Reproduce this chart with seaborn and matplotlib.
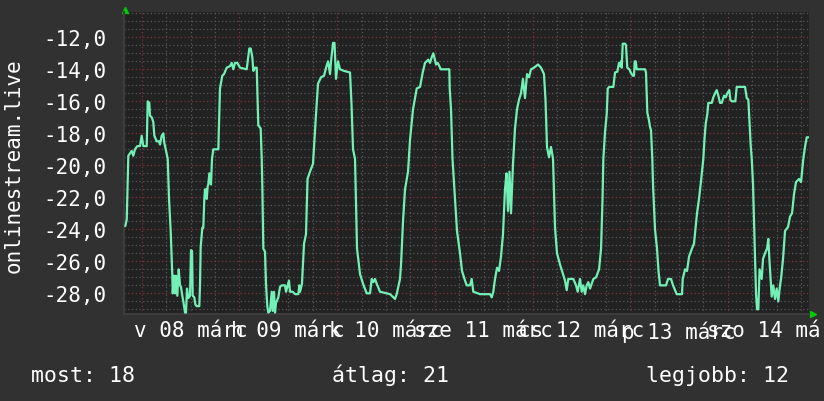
import numpy as np
import pandas as pd
import matplotlib
matplotlib.use("Agg")
import matplotlib.pyplot as plt
import seaborn as sns

# ---- data (hours since midnight of 08 March, rank shown negative) ----
hours_a = [-4.03, -3.68, -3.37, -3.29, -2.46, -2.06, -1.65, -1.08, -0.42, 0.0,
           0.39, 1.23, 1.47, 1.87, 2.04, 2.46, 2.85, 3.10, 3.68, 4.25,
           4.50, 4.91, 5.31, 5.55, 5.90, 6.29, 6.39, 6.71, 7.12, 7.52,
           7.62, 7.93, 8.18, 8.43, 8.75, 9.09, 9.41, 9.65, 9.97, 10.22,
           10.64, 10.88, 11.13, 11.45, 11.87, 12.11, 12.36, 12.53, 12.92, 13.17,
           13.51, 14.15, 14.32, 14.49, 14.89, 15.13, 15.38, 15.55, 15.87, 15.97,
           16.21, 16.36, 16.61, 17.02, 17.15, 17.27, 17.59, 18.82, 19.23, 19.80,
           20.22, 20.88, 21.69, 22.11, 22.50, 22.92, 23.48, 24.15, 25.79, 26.43,
           26.78, 27.17, 27.42, 27.83, 28.25, 28.64, 29.23, 29.48]
rank_a = [-23.8, -23.4, -20.2, -19.4, -19.1, -19.4, -19.0, -18.8, -18.8, -18.15,
          -18.8, -18.8, -16.0, -16.1, -16.9, -17.0, -17.3, -18.15, -18.5, -18.5,
          -18.7, -18.15, -18.0, -18.6, -19.0, -19.5, -19.6, -22.1, -24.1, -26.9,
          -28.0, -26.9, -28.0, -26.9, -28.15, -26.5, -27.5, -27.6, -28.15, -28.5,
          -29.2, -29.2, -27.7, -28.3, -28.15, -25.3, -25.35, -28.15, -28.25, -28.7,
          -28.8, -28.8, -27.5, -25.1, -23.9, -23.9, -22.1, -21.5, -21.5, -22.1,
          -21.3, -21.2, -20.5, -21.2, -20.4, -19.6, -19.0, -19.0, -15.2, -14.4,
          -14.3, -13.9, -13.8, -13.6, -14.0, -13.6, -13.6, -13.9, -14.0, -12.7,
          -12.7, -13.25, -14.1, -13.9, -13.9, -17.5, -17.7, -19.6]

hours_b = [29.63, 29.87, 30.29, 30.53, 30.85, 31.10, 31.52, 31.93, 32.18, 32.50,
           32.75, 32.99, 33.56, 33.97, 34.39, 35.20, 35.45, 35.77, 36.18, 36.43,
           37.09, 37.66, 38.47, 38.72, 38.90, 39.37, 39.87, 40.36, 40.73, 41.34,
           42.08, 42.82, 43.31, 44.05, 44.79, 45.28, 45.77, 46.26, 46.51, 47.00,
           47.36, 47.73, 48.22, 48.71, 49.70, 51.17, 51.54, 51.91, 52.40, 52.89,
           53.63, 54.37, 55.27, 56.08, 56.50, 56.89, 57.31, 57.73, 58.54, 61.00,
           62.22, 62.64, 63.45]
rank_b = [-21.3, -25.2, -25.4, -27.4, -28.8, -29.2, -29.1, -27.9, -29.1, -27.9,
          -29.2, -28.6, -28.25, -27.6, -27.5, -27.5, -27.9, -27.6, -27.2, -27.9,
          -27.9, -28.05, -28.05, -27.5, -27.9, -27.4, -24.9, -24.3, -20.85, -20.4,
          -19.9, -16.8, -14.9, -14.5, -14.4, -13.9, -13.5, -14.3, -13.5, -12.35,
          -12.35, -14.6, -13.5, -14.0, -14.1, -14.2, -16.2, -19.0, -19.6, -25.2,
          -26.8, -27.4, -28.0, -28.0, -27.1, -27.3, -27.1, -27.4, -27.9, -28.05,
          -28.35, -28.05, -27.1]

hours_c = [63.70, 64.19, 64.68, 65.42, 65.91, 66.65, 67.56, 68.37, 69.03, 69.59,
           70.01, 70.40, 70.82, 71.24, 71.63, 71.88, 72.30, 72.71, 73.11, 73.45,
           75.56, 75.66, 75.98, 76.35, 76.96, 77.45, 78.19, 78.68, 79.42, 79.84,
           80.65, 81.06, 81.46, 83.11, 85.56, 85.98, 86.37, 86.79, 87.28, 87.77,
           88.26, 88.75, 89.24, 89.61, 89.98, 90.35, 90.72, 91.21, 91.70, 92.19,
           92.68, 93.17, 93.66, 94.15, 94.65, 95.14, 95.63, 96.36, 97.35, 98.09,
           98.82, 99.19, 99.56, 100.05, 100.54, 101.04]
rank_c = [-26.2, -23.5, -21.5, -20.4, -18.4, -16.5, -15.2, -15.1, -14.2, -13.6,
          -13.5, -13.4, -13.6, -13.25, -13.0, -13.25, -13.7, -13.6, -13.8, -14.0,
          -14.0, -15.2, -16.5, -19.6, -22.1, -24.1, -25.5, -26.6, -27.2, -27.5,
          -27.5, -27.1, -27.9, -28.05, -28.05, -28.25, -27.9, -27.1, -26.4, -26.6,
          -25.7, -24.3, -21.5, -20.5, -22.85, -20.4, -23.0, -19.9, -17.7, -16.5,
          -15.9, -15.5, -14.6, -15.8, -14.3, -14.5, -14.0, -13.9, -13.7, -13.9,
          -14.3, -15.9, -18.85, -19.5, -18.85, -19.6]

hours_d = [101.53, 102.02, 102.76, 103.49, 103.98, 104.40, 104.80, 106.02, 106.69, 107.10,
           107.67, 108.09, 108.48, 108.90, 109.31, 109.71, 110.13, 110.54, 110.95, 111.61,
           112.35, 112.84, 113.20, 113.40, 113.82, 114.23, 114.48, 114.87, 115.86, 116.27,
           116.83, 117.25, 117.50, 117.74, 117.91, 118.16, 118.72, 118.97, 119.28, 119.78,
           120.12, 120.62, 120.93, 121.11, 121.35, 121.60, 123.64, 123.88, 124.20, 124.62,
           124.86, 125.11, 125.43, 125.60, 126.09, 126.58, 126.95, 127.32, 128.80, 129.29,
           130.03, 130.52, 131.42, 132.72, 132.90, 133.47, 133.96, 134.45, 135.18, 135.67,
           136.41, 136.90, 137.39, 137.96]
rank_d = [-23.9, -25.5, -26.2, -26.8, -27.2, -27.8, -27.1, -27.1, -27.5, -27.9,
          -27.1, -27.9, -27.5, -28.05, -27.5, -27.3, -27.7, -27.4, -27.1, -27.0,
          -26.5, -25.2, -22.1, -19.6, -17.9, -16.8, -15.2, -15.1, -15.1, -14.2,
          -14.15, -13.6, -13.8, -13.5, -13.9, -12.4, -12.4, -12.5, -13.9, -14.0,
          -14.2, -14.4, -14.4, -13.5, -13.5, -14.0, -14.0, -14.2, -16.7, -17.2,
          -17.6, -17.8, -19.6, -21.2, -24.0, -25.2, -26.6, -27.5, -27.5, -27.1,
          -27.1, -27.5, -28.05, -28.05, -27.1, -26.5, -26.6, -25.7, -25.2, -24.9,
          -23.0, -22.1, -21.0, -19.6]

hours_e = [138.25, 138.55, 138.94, 139.19, 140.03, 140.42, 140.84, 141.25, 141.65, 142.07,
           142.48, 142.73, 143.05, 143.46, 143.86, 144.35, 144.60, 144.94, 145.51, 145.83,
           146.16, 147.80, 148.21, 148.63, 149.02, 149.27, 149.61, 149.86, 150.17, 150.54,
           150.91, 151.16, 151.47, 151.77, 152.30, 152.62, 153.11, 153.60, 153.93, 154.22,
           154.76, 155.15, 155.57, 155.99, 156.38, 156.80, 157.05, 157.54, 158.03, 158.77,
           159.26, 159.75, 160.24, 160.73, 161.47, 161.96, 162.52, 162.94, 163.36, 163.80]
rank_e = [-18.35, -17.4, -16.8, -16.1, -16.1, -15.75, -15.5, -15.3, -15.65, -16.1,
          -16.1, -15.9, -15.65, -15.75, -15.5, -15.3, -15.9, -16.0, -16.0, -16.0,
          -15.1, -15.1, -15.1, -15.8, -15.9, -17.1, -18.8, -19.6, -21.2, -24.6,
          -28.05, -29.0, -29.0, -26.5, -27.1, -25.85, -25.5, -25.2, -24.6, -26.0,
          -28.2, -27.5, -28.35, -27.7, -28.5, -27.5, -27.1, -25.85, -24.1, -23.85,
          -23.2, -23.0, -21.8, -21.05, -20.85, -21.05, -19.6, -18.85, -18.25, -18.25]

day_labels = ["v 08 márc", "h 09 márc", "k 10 márc", "sze 11 márc",
              "cs 12 márc", "p 13 márc", "szo 14 márc"]
day_label_hours = [12, 36, 60, 84, 108, 132, 156]
y_major = [-28, -26, -24, -22, -20, -18, -16, -14, -12]
series_name = "onlinestream.live"
summary_texts = ["most: 18", "átlag: 21", "legjobb: 12"]

# ---- build frame ----
df = pd.DataFrame({
    "hour": hours_a + hours_b + hours_c + hours_d + hours_e,
    "rank": rank_a + rank_b + rank_c + rank_d + rank_e,
})

sns.set_style("dark")
plt.rcParams["font.family"] = ["DejaVu Sans Mono", "DejaVu Sans"]

W, H = 824, 402
fig = plt.figure(figsize=(W / 100, H / 100), dpi=100, facecolor="#313131")
L, R, T, B = 124, 809, 13, 315
ax = fig.add_axes([L / W, 1 - B / H, (R - L) / W, (B - T) / H])
ax.set_facecolor("#222222")

RED = "#7e3438"
GREY = "#565656"
LINE = "#72f0b6"

sns.lineplot(data=df, x="hour", y="rank", ax=ax, color=LINE, linewidth=1.6,
             estimator=None, sort=False, zorder=5)

ax.set_xlim(-4.35, 163.92)
ax.set_ylim(-29.29, -10.42)

# x grid: major at midnight (red), minor every 6 h (grey); labels at noon
ax.set_xticks(np.arange(0, 168, 24))
ax.set_xticklabels([])
minor_pos = [h for h in range(6, 164, 6) if h % 24 != 0]
minor_lab = [day_labels[day_label_hours.index(h)] if h in day_label_hours else ""
             for h in minor_pos]
ax.set_xticks(minor_pos, minor=True)
ax.set_xticklabels(minor_lab, minor=True)

# y grid
ax.set_yticks(y_major)
ax.set_yticklabels([f"{v:.1f}".replace(".", ",") for v in y_major])
ax.set_yticks(np.arange(-29.0, -10.4, 0.5), minor=True)

dots = (0, (1, 2))
ax.grid(which="minor", color=GREY, linestyle=dots, linewidth=0.9)
ax.grid(which="major", color=RED, linestyle=dots, linewidth=0.9)
ax.set_axisbelow(True)

ax.tick_params(axis="x", which="major", length=3, width=0.8, color=RED)
ax.tick_params(axis="x", which="minor", length=3, width=0.8, color=GREY,
               labelcolor="white", labelsize=15, pad=1.5)
ax.tick_params(axis="y", which="major", length=3, width=0.8, color=RED,
               labelcolor="white", labelsize=15, pad=9.5)
ax.tick_params(axis="y", which="minor", length=3, width=0.8, color=GREY)
ax.set_xlabel("")
ax.set_ylabel("")

for s in ["top", "right"]:
    ax.spines[s].set_visible(False)
for s in ["left", "bottom"]:
    ax.spines[s].set_color("#3c3c3c")
    ax.spines[s].set_linewidth(1.5)

# rrdtool-like arrows
ax.plot([0.002], [1.0066], marker="^", markersize=5, color="#00cc00",
        transform=ax.transAxes, clip_on=False, linestyle="none")
ax.plot([1.0063], [0.001], marker=">", markersize=5, color="#00cc00",
        transform=ax.transAxes, clip_on=False, linestyle="none")

# vertical series name
fig.text(14 / W, 1 - 166 / H, series_name, rotation=90, ha="center",
         va="center", color="white", fontsize=15)

# summary line
for txt, xpx in zip(summary_texts, [31, 332, 646]):
    fig.text(xpx / W, 1 - 382 / H, txt, ha="left", va="baseline",
             color="white", fontsize=15.5)

fig.savefig("out.png", dpi=100, facecolor=fig.get_facecolor())
